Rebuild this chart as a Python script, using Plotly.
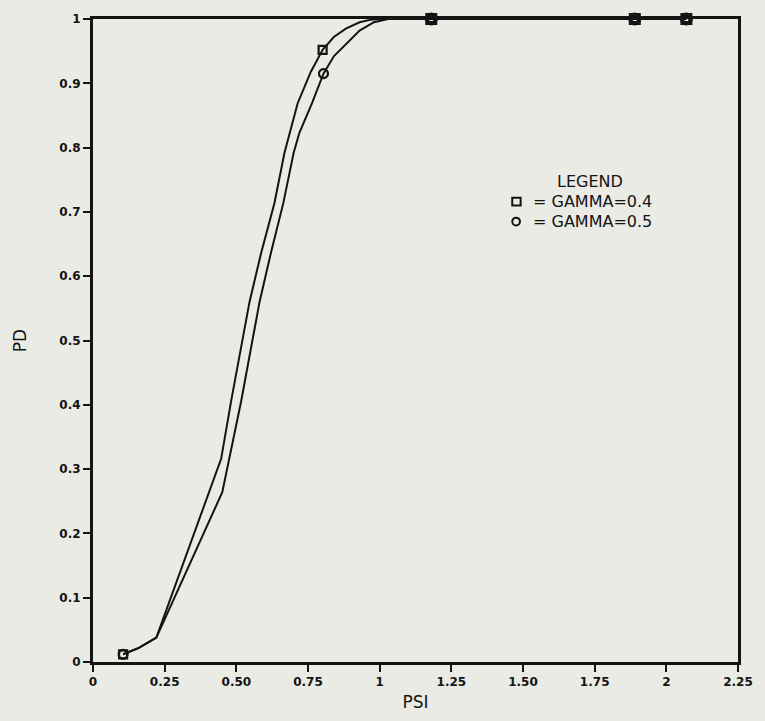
import plotly.graph_objects as go

# Curve traces for PD versus PSI
psi_g04 = [0.105, 0.16, 0.221, 0.447, 0.482, 0.546, 0.587, 0.633, 0.668, 0.714,
           0.76, 0.801, 0.84, 0.882, 0.93, 0.97, 1.0, 1.18, 1.89, 2.07]
pd_g04 = [0.012, 0.022, 0.038, 0.316, 0.406, 0.560, 0.637, 0.714, 0.792, 0.869,
          0.918, 0.952, 0.972, 0.985, 0.995, 0.999, 1.0, 1.0, 1.0, 1.0]

psi_g05 = [0.105, 0.16, 0.221, 0.451, 0.517, 0.581, 0.621, 0.664, 0.700, 0.720,
           0.764, 0.804, 0.84, 0.882, 0.93, 0.98, 1.03, 1.18, 1.89, 2.07]
pd_g05 = [0.012, 0.022, 0.038, 0.264, 0.406, 0.560, 0.637, 0.714, 0.792, 0.823,
          0.869, 0.915, 0.942, 0.961, 0.982, 0.995, 1.0, 1.0, 1.0, 1.0]

# Computed points marked on each curve
mark_psi_g04 = [0.105, 0.801, 1.18, 1.89, 2.07]
mark_pd_g04 = [0.012, 0.952, 1.0, 1.0, 1.0]
mark_psi_g05 = [0.105, 0.804, 1.18, 1.89, 2.07]
mark_pd_g05 = [0.012, 0.915, 1.0, 1.0, 1.0]

x_tickvals = [0, 0.25, 0.5, 0.75, 1, 1.25, 1.5, 1.75, 2, 2.25]
x_ticktext = ["0", "0.25", "0.50", "0.75", "1", "1.25", "1.50", "1.75", "2", "2.25"]
y_tickvals = [0, 0.1, 0.2, 0.3, 0.4, 0.5, 0.6, 0.7, 0.8, 0.9, 1]
y_ticktext = ["0", "0.1", "0.2", "0.3", "0.4", "0.5", "0.6", "0.7", "0.8", "0.9", "1"]

legend_title = "LEGEND"
legend_labels = ["= GAMMA=0.4", "= GAMMA=0.5"]

ink = "#141414"
paper = "#ebebe5"


def marker_widths(values):
    # points sitting on the top frame are drawn heavier, like inked dots
    return [4.0 if v >= 1 else 2.2 for v in values]


fig = go.Figure()
fig.add_trace(go.Scatter(x=psi_g04, y=pd_g04, mode="lines",
                         line=dict(color=ink, width=2), cliponaxis=False,
                         showlegend=False))
fig.add_trace(go.Scatter(x=psi_g05, y=pd_g05, mode="lines",
                         line=dict(color=ink, width=2), cliponaxis=False,
                         showlegend=False))
fig.add_trace(go.Scatter(x=mark_psi_g04, y=mark_pd_g04, mode="markers",
                         marker=dict(symbol="square-open", size=8, color=ink,
                                     line=dict(width=marker_widths(mark_pd_g04), color=ink)),
                         cliponaxis=False, showlegend=False))
fig.add_trace(go.Scatter(x=mark_psi_g05, y=mark_pd_g05, mode="markers",
                         marker=dict(symbol="circle-open", size=9, color=ink,
                                     line=dict(width=marker_widths(mark_pd_g05), color=ink)),
                         cliponaxis=False, showlegend=False))

tick_font = dict(family="DejaVu Sans", size=12, color=ink, weight="bold")
title_font = dict(family="DejaVu Sans", size=17, color=ink)

fig.update_xaxes(range=[0, 2.25], tickvals=x_tickvals, ticktext=x_ticktext,
                 ticks="outside", ticklen=7, tickwidth=2, tickcolor=ink,
                 showline=True, linewidth=3, linecolor=ink, mirror=True,
                 showgrid=False, zeroline=False, tickfont=tick_font,
                 title=dict(text="PSI", font=title_font, standoff=8))
fig.update_yaxes(range=[0, 1], tickvals=y_tickvals, ticktext=y_ticktext,
                 ticks="outside", ticklen=7, tickwidth=2, tickcolor=ink,
                 showline=True, linewidth=3, linecolor=ink, mirror=True,
                 showgrid=False, zeroline=False, tickfont=tick_font,
                 title=dict(text="PD", font=title_font, standoff=29))

# Legend block inside the plot area, symbols drawn as shapes
legend_font = dict(family="DejaVu Sans", size=16, color=ink)
fig.add_annotation(x=0.770, y=0.747, xref="paper", yref="paper", text=legend_title,
                   showarrow=False, xanchor="center", yanchor="middle", font=legend_font)
for txt, yy in zip(legend_labels, [0.716, 0.685]):
    fig.add_annotation(x=0.6785, y=yy, xref="paper", yref="paper", text=txt,
                       showarrow=False, xanchor="left", yanchor="middle", font=legend_font)
fig.add_shape(type="rect", xref="paper", yref="paper",
              x0=0.650, x1=0.663, y0=0.710, y1=0.722,
              line=dict(color=ink, width=2))
fig.add_shape(type="circle", xref="paper", yref="paper",
              x0=0.650, x1=0.662, y0=0.679, y1=0.691,
              line=dict(color=ink, width=2))

fig.update_layout(width=765, height=721,
                  margin=dict(l=93, r=25, t=15, b=58),
                  paper_bgcolor=paper, plot_bgcolor=paper,
                  font=dict(family="DejaVu Sans", color=ink))

fig.write_html("out.html")
